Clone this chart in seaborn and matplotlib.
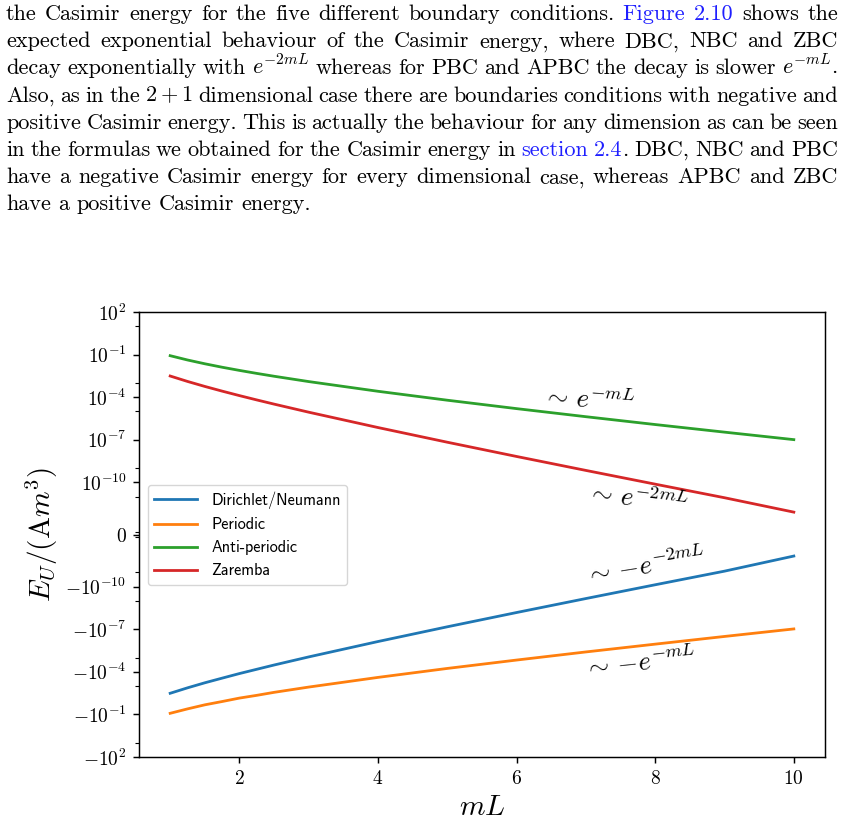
import re
import numpy as np
import pandas as pd
import matplotlib
matplotlib.use("Agg")
import matplotlib.pyplot as plt
import seaborn as sns

# values (E_U in units of A m^3)
mL = [1, 1.25, 1.5, 1.75, 2, 2.25, 2.5, 3, 4, 5, 6, 7, 8, 9, 10]
dirichlet_neumann = [-3.26e-3, -1.35e-3, -5.95e-4, -2.80e-4, -1.33e-4, -6.65e-5,
                     -3.33e-5, -8.95e-6, -7.38e-7, -6.78e-8, -6.70e-9, -6.95e-10,
                     -7.45e-11, -8.2e-12, -9.1e-13]
periodic = [-0.0838, -0.0410, -0.0212, -0.0124, -7.1e-3, -4.55e-3, -2.8e-3,
            -1.19e-3, -2.48e-4, -5.8e-5, -1.49e-5, -4.0e-6, -1.13e-6,
            -3.25e-7, -9.6e-8]
anti_periodic = [0.0838, 0.0418, 0.0226, 0.0129, 7.71e-3, 4.74e-3, 2.99e-3,
                 1.26e-3, 2.61e-4, 6.14e-5, 1.57e-5, 4.24e-6, 1.19e-6,
                 3.47e-7, 1.03e-7]
zaremba = [3.11e-3, 1.29e-3, 5.74e-4, 2.68e-4, 1.295e-4, 6.43e-5, 3.26e-5,
           8.80e-6, 7.30e-7, 6.76e-8, 6.71e-9, 6.99e-10, 7.54e-11,
           8.35e-12, 9.45e-13]
names = ["Dirichlet/Neumann", "Periodic", "Anti-periodic", "Zaremba"]

# symlog tick exponents
major_exp = [2, -1, -4, -7, -10]
minor_exp = [1, -1, -3, -5, -7, -9, -11, -13]
x_ticks = [2, 4, 6, 8, 10]

# annotations: text, axes-fraction position, rotation
notes = [(r"$\sim\, e^{-mL}$", 0.656, 0.800, -4),
         (r"$\sim\, e^{-2mL}$", 0.726, 0.578, -7),
         (r"$\sim\, {-e}^{-2mL}$", 0.738, 0.427, 9),
         (r"$\sim\, {-e}^{-mL}$", 0.730, 0.211, 6)]

# page text above the figure ([..] = hyperlink in blue)
paragraph = [
    "the Casimir energy for the five different boundary conditions. [Figure] [2.10] shows the",
    "expected exponential behaviour of the Casimir energy, where DBC, NBC and ZBC",
    "decay exponentially with $e^{-2mL}$ whereas for PBC and APBC the decay is slower $e^{-mL}$.",
    "Also, as in the $2+1$ dimensional case there are boundaries conditions with negative and",
    "positive Casimir energy. This is actually the behaviour for any dimension as can be seen",
    "in the formulas we obtained for the Casimir energy in [section] [2.4]. DBC, NBC and PBC",
    "have a negative Casimir energy for every dimensional case, whereas APBC and ZBC",
    "have a positive Casimir energy.",
]
LINK = "#1f1fff"

plt.rcParams.update({
    "mathtext.fontset": "cm",
    "axes.linewidth": 1.05,
    "xtick.major.size": 4.5, "ytick.major.size": 4.5,
    "xtick.major.width": 1.05, "ytick.major.width": 1.05,
    "ytick.minor.size": 2.6, "ytick.minor.width": 0.8,
    "xtick.major.pad": 4.5, "ytick.major.pad": 4.5,
})

W, H = 845, 825
fig = plt.figure(figsize=(W / 100, H / 100), dpi=100)
ax = fig.add_axes([139 / W, 1 - 757 / H, (825 - 139) / W, 445 / H])

df = pd.DataFrame({
    "mL": mL * 4,
    "E": dirichlet_neumann + periodic + anti_periodic + zaremba,
    "bc": sum([[n] * len(mL) for n in names], []),
})
sns.lineplot(data=df, x="mL", y="E", hue="bc", hue_order=names,
             palette=sns.color_palette("tab10", 4), linewidth=2,
             errorbar=None, ax=ax)

ax.set_yscale("symlog", linthresh=1e-12, linscale=1.5)
ax.set_ylim(-100, 100)
ax.set_xlim(0.55, 10.45)

def exp_label(e, sign=""):
    return r"$%s10^{%d}$" % (sign, e)

yt = [-10.0 ** e for e in major_exp] + [0.0] + [10.0 ** e for e in major_exp[::-1]]
yl = [exp_label(e, "-") for e in major_exp] + ["$0$"] + [exp_label(e) for e in major_exp[::-1]]
ax.set_yticks(yt, labels=yl, fontsize=14)
ax.set_yticks([-10.0 ** e for e in minor_exp] + [10.0 ** e for e in minor_exp], minor=True)
ax.set_xticks(x_ticks, labels=["$%d$" % v for v in x_ticks], fontsize=14)

ax.set_xlabel("$mL$", fontsize=21, labelpad=3)
ax.set_ylabel(r"$E_U/(\mathrm{A}m^3)$", fontsize=21, labelpad=4)

handles, labels = ax.get_legend_handles_labels()
ax.legend(handles, labels, loc="upper left", bbox_to_anchor=(0.013, 0.611),
          borderaxespad=0, prop={"family": "cmss10", "size": 11.7},
          handlelength=2.6, handletextpad=0.9)

for txt, fx, fy, rot in notes:
    ax.text(fx, fy, txt, transform=ax.transAxes, fontsize=19, rotation=rot,
            ha="center", va="center", rotation_mode="anchor")

# justified paragraph, drawn word by word
renderer = fig.canvas.get_renderer()
left, right, base0, step, size = 6, 838, 20, 27.2, 16
for i, line in enumerate(paragraph):
    y = 1 - (base0 + i * step) / H
    words = []
    for w in line.split(" "):
        pieces = []
        for s in re.split(r"(\[[^\]]*\])", w):
            if not s:
                continue
            if s.startswith("["):
                pieces.append((s[1:-1], LINK))
            else:
                pieces.append((s, "black"))
        arts = []
        width = 0
        for s, c in pieces:
            t = fig.text(0, y, s, color=c, fontsize=size, family="cmr10",
                         va="baseline", ha="left")
            wd = t.get_window_extent(renderer).width
            arts.append((t, width))
            width += wd
        words.append((arts, width))
    total = sum(wd for _, wd in words)
    if i == len(paragraph) - 1:
        gap = 0.333 * size * 100 / 72
    else:
        gap = (right - left - total) / (len(words) - 1)
    x = left
    for arts, wd in words:
        for t, off in arts:
            t.set_x((x + off) / W)
        x += wd + gap

fig.savefig("out.png", dpi=100)
